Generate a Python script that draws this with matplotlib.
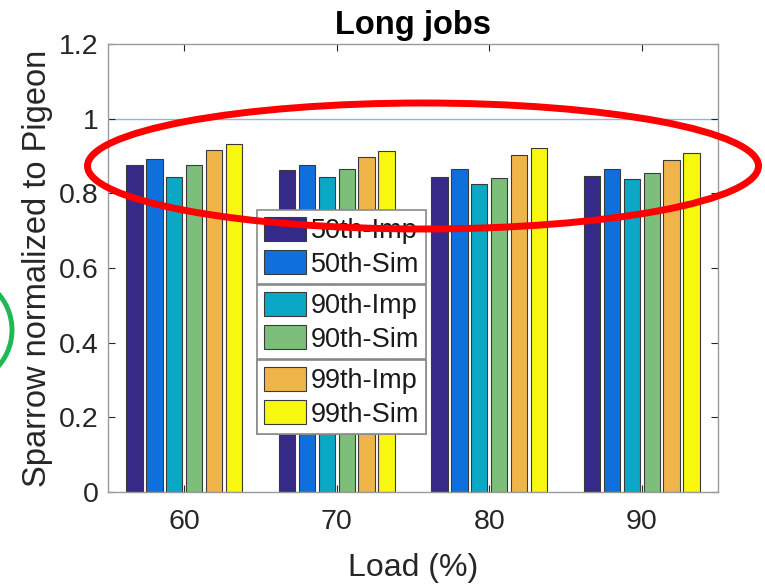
import matplotlib
matplotlib.use("Agg")
import matplotlib.pyplot as plt
import numpy as np
from matplotlib.patches import Ellipse

plt.rcParams['font.family'] = ['Liberation Sans', 'DejaVu Sans']

loads = ["60", "70", "80", "90"]
series = ["50th-Imp", "50th-Sim", "90th-Imp", "90th-Sim", "99th-Imp", "99th-Sim"]
imp50 = [0.876, 0.862, 0.843, 0.846]
sim50 = [0.892, 0.876, 0.865, 0.865]
imp90 = [0.845, 0.845, 0.824, 0.838]
sim90 = [0.876, 0.865, 0.842, 0.854]
imp99 = [0.916, 0.897, 0.903, 0.889]
sim99 = [0.931, 0.913, 0.922, 0.907]
values = [imp50, sim50, imp90, sim90, imp99, sim99]
colors = ["#352a87", "#0f6fdc", "#0aa8c4", "#7dbf7a", "#f0b54a", "#f7f70f"]
yticks = [0, 0.2, 0.4, 0.6, 0.8, 1, 1.2]
yticklabels = ["0", "0.2", "0.4", "0.6", "0.8", "1", "1.2"]

W, H = 765, 586
fig = plt.figure(figsize=(W/100, H/100), dpi=100)
ax = fig.add_axes([108/W, (H-492)/H, 610/W, 448/H])

x = np.arange(1, len(loads)+1)
pitch = 0.131
bw = 0.108
bars = []
for i, (vals, c) in enumerate(zip(values, colors)):
    b = ax.bar(x + (i-2.5)*pitch, vals, width=bw, color=c, edgecolor="#3a3a3a",
               linewidth=0.8, label=series[i], zorder=2)
    bars.append(b)

ax.axhline(1.0, color="#8ab8e2", lw=1.0, zorder=1)
ax.set_xlim(0.5, 4.5)
ax.set_ylim(0, 1.2)
ax.set_xticks(x)
ax.set_xticklabels(loads)
ax.set_yticks(yticks)
ax.set_yticklabels(yticklabels)
ax.tick_params(direction='in', length=5, labelsize=20.5, colors="#262626",
               top=True, right=True, width=0.8)
ax.tick_params(axis='x', pad=12)
ax.tick_params(axis='y', pad=7)
for s in ax.spines.values():
    s.set_color("#9a9a9a")
    s.set_linewidth(1.0)
ax.set_title("Long jobs", fontsize=23.5, fontweight='bold', pad=7)
ax.set_xlabel("Load (%)", fontsize=23, color="#262626", labelpad=13)
ax.set_ylabel("Sparrow normalized to Pigeon", fontsize=23.5, color="#262626", labelpad=4)

# three stacked legends
boxes = [(0.2443, 0.6295), (0.2443, 0.462), (0.2443, 0.2946)]
for k in range(3):
    handles = [bars[2*k], bars[2*k+1]]
    labs = [series[2*k], series[2*k+1]]
    leg = ax.legend(handles, labs, loc='upper left', bbox_to_anchor=boxes[k],
                    bbox_transform=ax.transAxes, fontsize=19.5, frameon=True,
                    fancybox=False, framealpha=1, edgecolor="#8a8a8a",
                    handlelength=1.55, handleheight=1.0, handletextpad=0.18,
                    labelspacing=0.22, borderpad=0.25, borderaxespad=0)
    leg.get_frame().set_linewidth(1.2)
    leg.set_zorder(5)
    for t in leg.get_texts():
        t.set_color("#1a1a1a")
    ax.add_artist(leg)

# annotation overlays
ov = fig.add_axes([0, 0, 1, 1], facecolor='none')
ov.set_xlim(0, W)
ov.set_ylim(H, 0)
ov.axis('off')
ov.add_patch(Ellipse((423, 166), 671, 126, fill=False, edgecolor="#ff0000", lw=5))
ov.add_patch(Ellipse((-43, 330), 110, 110, fill=False, edgecolor="#1db954", lw=3.5))

fig.savefig("out.png", dpi=100)
